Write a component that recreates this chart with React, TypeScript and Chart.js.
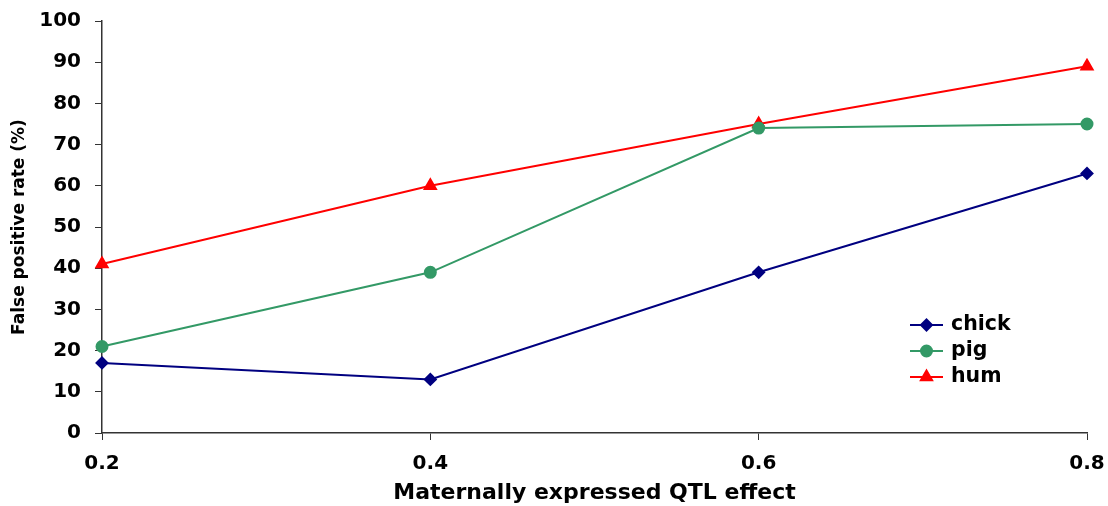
import React, { useEffect, useRef } from "react";
import { Chart, registerables } from "chart.js";
import { drawPoint } from "chart.js/helpers";

Chart.register(...registerables);

const categories = ["0.2", "0.4", "0.6", "0.8"];
const yTicks = [0, 10, 20, 30, 40, 50, 60, 70, 80, 90, 100];
const chick = [17, 13, 39, 63];
const pig = [21, 39, 74, 75];
const hum = [41, 60, 75, 89];

const FONT = "'DejaVu Sans', sans-serif";

const insideLegend = {
  id: "insideLegend",
  afterDatasetsDraw(chart: any, _args: any, opts: any) {
    const ctx = chart.ctx;
    ctx.save();
    chart.data.datasets.forEach((ds: any, i: number) => {
      const y = opts.y + i * opts.gap;
      ctx.strokeStyle = ds.borderColor;
      ctx.lineWidth = 2;
      ctx.beginPath();
      ctx.moveTo(opts.x, y);
      ctx.lineTo(opts.x + opts.lineLen, y);
      ctx.stroke();
      ctx.fillStyle = ds.pointBackgroundColor;
      ctx.strokeStyle = ds.borderColor;
      drawPoint(
        ctx,
        { pointStyle: ds.pointStyle, radius: ds.pointRadius, rotation: 0, borderWidth: 1 },
        opts.x + opts.lineLen / 2,
        y
      );
      ctx.fillStyle = "#000";
      ctx.font = `bold ${opts.fontSize}px ${FONT}`;
      ctx.textBaseline = "middle";
      ctx.textAlign = "left";
      ctx.fillText(ds.label, opts.x + opts.lineLen + 8, y);
    });
    ctx.restore();
  },
};

export default function App() {
  const ref = useRef<HTMLCanvasElement>(null);
  useEffect(() => {
    document.body.style.margin = "0";
    const chart = new Chart(ref.current!, {
      type: "line",
      data: {
        labels: categories,
        datasets: [
          {
            label: "chick",
            data: chick,
            borderColor: "#000080",
            backgroundColor: "#000080",
            pointBackgroundColor: "#000080",
            pointStyle: "rectRot",
            pointRadius: 5.5,
            borderWidth: 2,
          },
          {
            label: "pig",
            data: pig,
            borderColor: "#339966",
            backgroundColor: "#339966",
            pointBackgroundColor: "#339966",
            pointStyle: "circle",
            pointRadius: 5.5,
            borderWidth: 2,
          },
          {
            label: "hum",
            data: hum,
            borderColor: "#FF0000",
            backgroundColor: "#FF0000",
            pointBackgroundColor: "#FF0000",
            pointStyle: "triangle",
            pointRadius: 6.5,
            borderWidth: 2,
          },
        ] as any,
      },
      options: {
        animation: false,
        responsive: false,
        layout: { padding: { top: 21, right: 21, left: 0, bottom: 0 } },
        plugins: {
          legend: { display: false },
          tooltip: { enabled: false },
          insideLegend: { x: 910, y: 325, gap: 26, lineLen: 33, fontSize: 20.5 },
        } as any,
        scales: {
          x: {
            type: "category",
            offset: false,
            grid: { display: true, drawOnChartArea: false, drawTicks: true, tickLength: 7, color: "#333", offset: false },
            border: { display: true, color: "#333", width: 1.5 },
            ticks: { color: "#000", font: { family: FONT, size: 20, weight: "bold" }, padding: 12, maxRotation: 0 },
            title: {
              display: true,
              text: "Maternally expressed QTL effect",
              color: "#000",
              font: { family: FONT, size: 22, weight: "bold" },
              padding: { top: 0, bottom: 0 },
            },
            afterFit: (s: any) => {
              s.height = 73;
              s.paddingLeft = 0;
              s.paddingRight = 0;
            },
          },
          y: {
            min: 0,
            max: 100,
            afterBuildTicks: (s: any) => {
              s.ticks = yTicks.map((v) => ({ value: v }));
            },
            grid: { display: true, drawOnChartArea: false, drawTicks: true, tickLength: 7, color: "#333" },
            border: { display: true, color: "#333", width: 1.5 },
            ticks: { color: "#000", font: { family: FONT, size: 20, weight: "bold" }, padding: 14 },
            title: {
              display: true,
              text: "False positive rate (%)",
              color: "#000",
              font: { family: FONT, size: 17, weight: "bold" },
              padding: { top: 9, bottom: 0 },
            },
            afterFit: (s: any) => {
              s.width = 102;
              s.paddingTop = 0;
              s.paddingBottom = 0;
            },
          },
        },
      },
      plugins: [insideLegend],
    });
    return () => chart.destroy();
  }, []);
  return <canvas ref={ref} width={1108} height={506} style={{ display: "block" }} />;
}
